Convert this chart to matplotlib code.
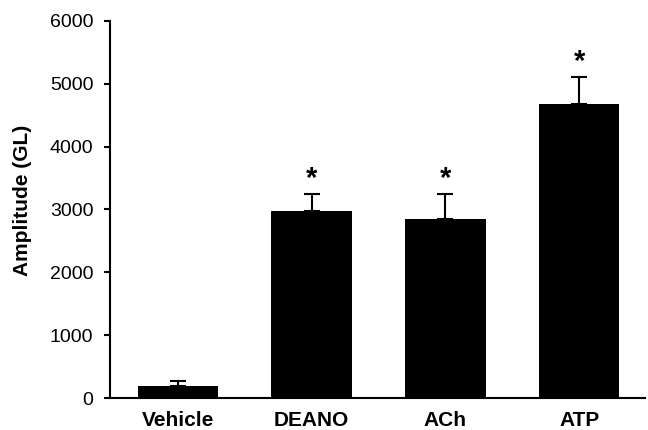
import matplotlib.pyplot as plt
import numpy as np

plt.rcParams['font.family'] = ['Liberation Sans', 'DejaVu Sans']

categories = ["Vehicle", "DEANO", "ACh", "ATP"]
means = [190, 2975, 2845, 4685]
sems = [80, 265, 395, 425]
significant = [False, True, True, True]


def main():
    fig = plt.figure(figsize=(6.48, 4.30), dpi=100)
    ax = fig.add_axes([0.170, 0.0744, 0.825, 0.877])

    x = np.arange(len(categories))
    ax.bar(x, means, width=0.6, color="black", zorder=2)
    ax.errorbar(x, means, yerr=[np.zeros(len(sems)), sems], fmt="none",
                ecolor="black", elinewidth=1.5, capsize=5.5, capthick=1.5,
                zorder=3)

    # asterisks just above the error bars
    for xi, m, s, sig in zip(x, means, sems, significant):
        if sig:
            ax.annotate("*", (xi, m + s), xytext=(0, 1),
                        textcoords="offset points", ha="center", va="bottom",
                        fontsize=21, fontweight="bold")

    ax.set_xlim(-0.505, 3.49)
    ax.set_ylim(0, 6000)
    ax.set_yticks(np.arange(0, 6001, 1000))
    ax.set_xticks(x)
    ax.set_xticklabels(categories, fontweight="bold", fontsize=15)
    ax.tick_params(axis="y", labelsize=14, length=4, width=1.5, pad=8)
    ax.tick_params(axis="x", length=0, pad=9)
    ax.set_ylabel("Amplitude (GL)", fontweight="bold", fontsize=15)
    ax.yaxis.set_label_coords(-0.146, 0.525)

    for side in ("top", "right"):
        ax.spines[side].set_visible(False)
    for side in ("left", "bottom"):
        ax.spines[side].set_linewidth(1.5)

    fig.savefig("out.png", dpi=100)


if __name__ == "__main__":
    main()
